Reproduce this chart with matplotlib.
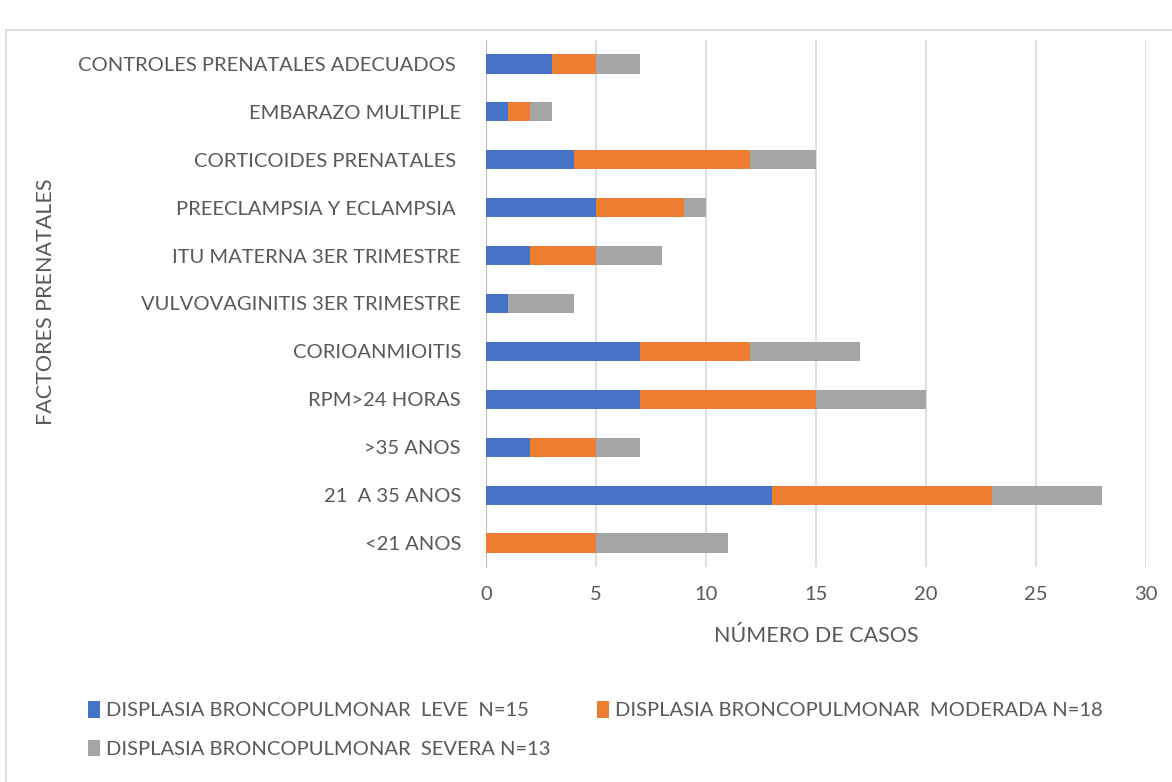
import matplotlib
matplotlib.use('agg')
import matplotlib.pyplot as plt
from matplotlib.patches import Rectangle
import numpy as np

plt.rcParams['font.family'] = ['Lato', 'DejaVu Sans']

# categorias de abajo hacia arriba
factores = ['<21 ANOS', '21  A 35 ANOS', '>35 ANOS', 'RPM>24 HORAS', 'CORIOANMIOITIS',
            'VULVOVAGINITIS 3ER TRIMESTRE', 'ITU MATERNA 3ER TRIMESTRE',
            'PREECLAMPSIA Y ECLAMPSIA ', 'CORTICOIDES PRENATALES ',
            'EMBARAZO MULTIPLE', 'CONTROLES PRENATALES ADECUADOS ']
leve = [0, 13, 2, 7, 7, 1, 2, 5, 4, 1, 3]
moderada = [5, 10, 3, 8, 5, 0, 3, 4, 8, 1, 2]
severa = [6, 5, 2, 5, 5, 3, 3, 1, 3, 1, 2]
series_labels = ['DISPLASIA BRONCOPULMONAR  LEVE  N=15',
                 'DISPLASIA BRONCOPULMONAR  MODERADA N=18',
                 'DISPLASIA BRONCOPULMONAR  SEVERA N=13']
colores = ['#4472C4', '#ED7D31', '#A5A5A5']
txt = '#595959'

fig = plt.figure(figsize=(11.72, 7.82), dpi=100)
fig.patches.append(Rectangle((0.005, -0.02), 1.05, 1 - 0.005 - 10 / 782, transform=fig.transFigure,
                             fill=False, edgecolor='#d9d9d9', lw=1.2))
ax = fig.add_axes([486 / 1172, 1 - 567 / 782, 660 / 1172, 527 / 782])

y = np.arange(len(factores))
left = np.zeros(len(factores))
handles = []
for vals, lab, c in zip([leve, moderada, severa], series_labels, colores):
    b = ax.barh(y, vals, left=left, height=0.4, color=c, label=lab, zorder=3)
    handles.append(b)
    left += np.array(vals)

ax.set_xlim(0, 30)
ax.set_ylim(-0.5, len(factores) - 0.5)
ax.set_xticks(range(0, 31, 5))
ax.set_yticks(y)
ax.set_yticklabels(factores)
ax.grid(axis='x', color='#d9d9d9', lw=1.2, zorder=0)
for s in ['top', 'right', 'bottom']:
    ax.spines[s].set_visible(False)
ax.spines['left'].set_color('#bfbfbf')
ax.tick_params(axis='both', length=0, colors=txt)
ax.tick_params(axis='y', pad=18, labelsize=14.5)
ax.tick_params(axis='x', pad=14, labelsize=14.5)

ax.set_xlabel('NÚMERO DE CASOS', color=txt, fontsize=15.5, labelpad=16)
fig.text(46 / 1172, 1 - 302 / 782, 'FACTORES PRENATALES', rotation=90, color=txt,
         fontsize=15.5, ha='center', va='center')

# orden por filas: leve, moderada / severa
order = [0, 2, 1]
leg = fig.legend([handles[i] for i in order], [series_labels[i] for i in order],
                 loc='upper left', bbox_to_anchor=(70 / 1172, 1 - 683 / 782), ncol=2,
                 frameon=False, fontsize=14.5, handlelength=0.6, handleheight=0.9,
                 handletextpad=0.3, columnspacing=2.3, labelspacing=1.0)
for t in leg.get_texts():
    t.set_color(txt)

fig.savefig('out.png', dpi=100)
